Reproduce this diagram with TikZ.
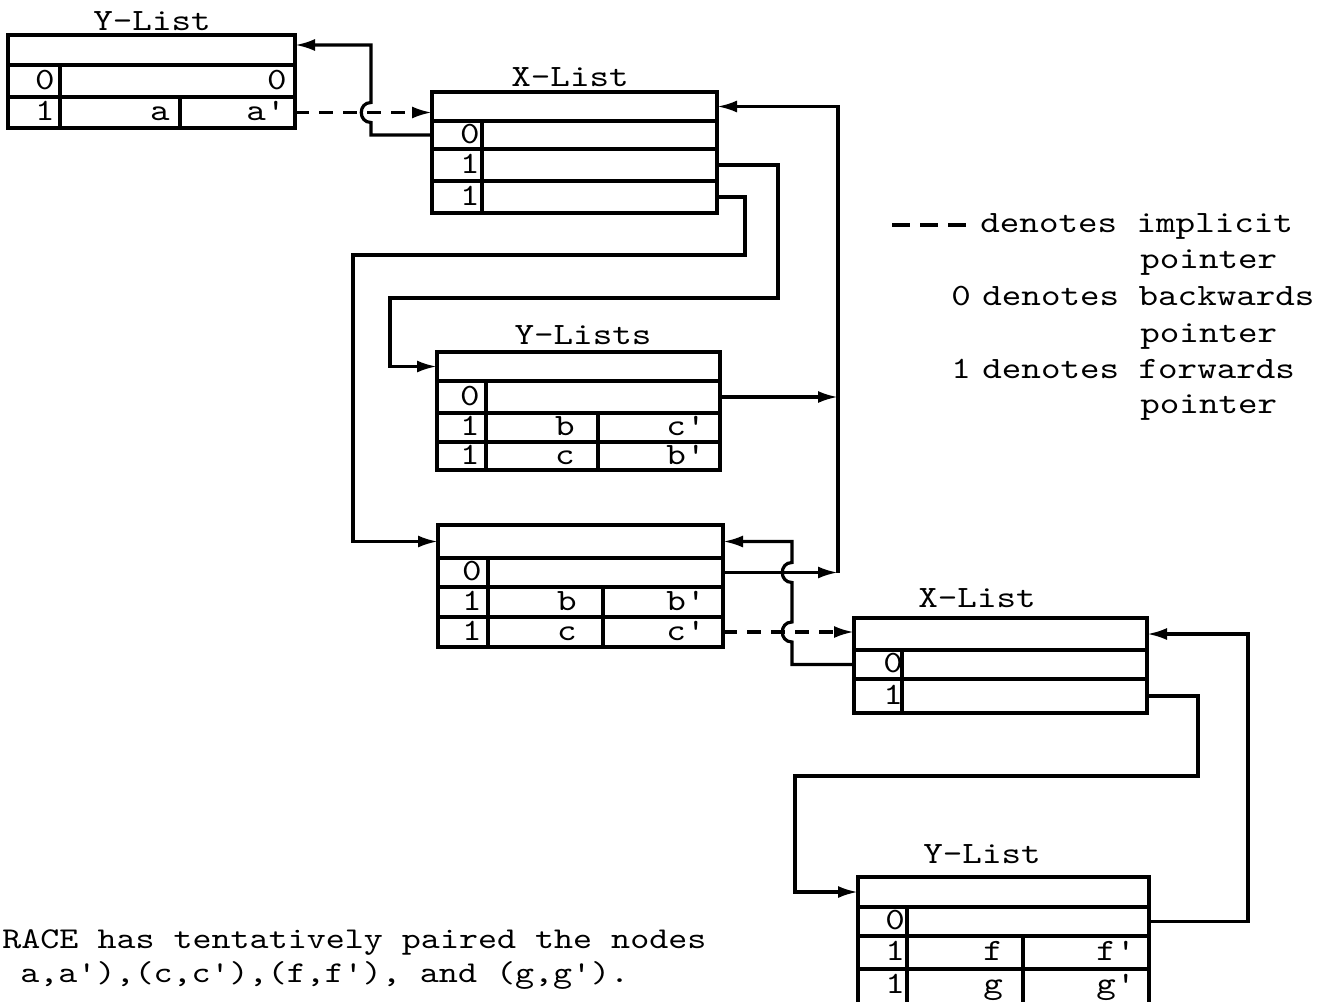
\documentclass[tikz,border=0pt]{standalone}
\usepackage{fontspec}
\setmonofont{lmmono10-regular.otf}[FakeStretch=1.2]
\usetikzlibrary{arrows.meta,fit}
\begin{document}
\begin{tikzpicture}[x=0.5pt,y=-0.5pt,
  box/.style={draw,line width=1.7pt,inner sep=0pt,outer sep=0pt},
  divider/.style={line width=1.7pt},
  lab/.style={font=\ttfamily\fontsize{15.5}{18}\selectfont,inner sep=0pt,anchor=base},
  txt/.style={font=\ttfamily\fontsize{15.5}{18}\selectfont,inner sep=0pt,anchor=base west},
  wire/.style={line width=1.6pt},
  arr/.style={wire,-{Latex[length=10pt,width=6pt]}},
  implicit/.style={arr,dash pattern=on 7pt off 5pt}]
\useasboundingbox (0,0) rectangle (1336,1001);
\clip (0,0) rectangle (1336,1001);
% ---------- Y-List (top left)
\node[lab] (t1) at (152,30) {Y-List};
\node[box,fit={(8,35) (295,65)}] (Y1h) {};
\node[box,fit={(8,65) (295,97)}] (Y1r0) {};
\node[box,fit={(8,97) (295,128)}] (Y1r1) {};
\draw[divider] (60,65) -- (60,128);
\draw[divider] (180,97) -- (180,128);
\node[lab] (y1a) at (45,89) {0};
\node[lab] (y1b) at (277,89) {0};
\node[lab] (y1c) at (45,120) {1};
\node[lab] (y1d) at (160,120) {a};
\node[lab] (y1e) at (266,120) {a'};
% ---------- X-List (top)
\node[lab] (t2) at (570,86) {X-List};
\node[box,fit={(432,92) (717,121)}] (X1h) {};
\node[box,fit={(432,121) (717,149)}] (X1r0) {};
\node[box,fit={(432,149) (717,181)}] (X1r1) {};
\node[box,fit={(432,181) (717,213)}] (X1r2) {};
\draw[divider] (482,121) -- (482,213);
\node[lab] (x1a) at (470,143) {0};
\node[lab] (x1b) at (470,173) {1};
\node[lab] (x1c) at (470,205) {1};
% ---------- Y-Lists
\node[lab] (t3) at (583,344) {Y-Lists};
\node[box,fit={(437,352) (720,381)}] (Y3h) {};
\node[box,fit={(437,381) (720,413)}] (Y3r0) {};
\node[box,fit={(437,413) (720,442)}] (Y3r1) {};
\node[box,fit={(437,442) (720,470)}] (Y3r2) {};
\draw[divider] (486,381) -- (486,470);
\draw[divider] (598,413) -- (598,470);
\node[lab] (y3a) at (470,405) {0};
\node[lab] (y3b) at (470,435) {1};
\node[lab] (y3c) at (565,435) {b};
\node[lab] (y3d) at (686,435) {c'};
\node[lab] (y3e) at (470,464) {1};
\node[lab] (y3f) at (565,464) {c};
\node[lab] (y3g) at (686,464) {b'};
% ---------- second Y-List box
\node[box,fit={(438,525) (723,558)}] (Y4h) {};
\node[box,fit={(438,558) (723,587)}] (Y4r0) {};
\node[box,fit={(438,587) (723,617)}] (Y4r1) {};
\node[box,fit={(438,617) (723,647)}] (Y4r2) {};
\draw[divider] (488,558) -- (488,647);
\draw[divider] (603,587) -- (603,647);
\node[lab] (y4a) at (472,580) {0};
\node[lab] (y4b) at (472,610) {1};
\node[lab] (y4c) at (567,610) {b};
\node[lab] (y4d) at (686,610) {b'};
\node[lab] (y4e) at (472,640) {1};
\node[lab] (y4f) at (567,640) {c};
\node[lab] (y4g) at (686,640) {c'};
% ---------- X-List (right)
\node[lab] (t5) at (977,607) {X-List};
\node[box,fit={(854,618) (1147,650)}] (X2h) {};
\node[box,fit={(854,650) (1147,679)}] (X2r0) {};
\node[box,fit={(854,679) (1147,713)}] (X2r1) {};
\draw[divider] (902,650) -- (902,713);
\node[lab] (x2a) at (893,672) {0};
\node[lab] (x2b) at (893,704) {1};
% ---------- Y-List (bottom right)
\node[lab] (t6) at (982,863) {Y-List};
\node[box,fit={(858,877) (1149,907)}] (Y5h) {};
\node[box,fit={(858,907) (1149,936)}] (Y5r0) {};
\node[box,fit={(858,936) (1149,969)}] (Y5r1) {};
\node[box,fit={(858,969) (1149,1010)}] (Y5r2) {};
\draw[divider] (907,907) -- (907,1010);
\draw[divider] (1023,936) -- (1023,1010);
\node[lab] (y5a) at (895,929) {0};
\node[lab] (y5b) at (895,960) {1};
\node[lab] (y5c) at (993,960) {f};
\node[lab] (y5d) at (1116,960) {f'};
\node[lab] (y5e) at (895,993) {1};
\node[lab] (y5f) at (993,993) {g};
\node[lab] (y5g) at (1116,993) {g'};
% ---------- connectors
\draw[implicit] (Y1r1.east) -- (Y1r1.east -| X1h.west);
\draw[arr] (X1r0.west) -- (371,135) -- (371,122.5)
   .. controls (358,122.5) and (358,102.5) .. (371,102.5)
   -- (371,45) -- (Y1h.east |- 0,45);
\draw[arr] (X1r1.east) -| (778,298) -| (Y3h.west -| 390,0) -- (Y3h.west);
\draw[arr] (X1r2.east) -| (745,255) -| (Y4h.west -| 353,0) -- (Y4h.west);
\draw[arr] (Y3r0.east) -- (Y3r0.east -| 838,0);
\draw[arr] (Y4r0.east) -- (Y4r0.east -| 838,0);
\draw[arr] (Y4r0.east -| 838,0) |- (X1h.east);
\draw[implicit] (Y4r2.east) -- (Y4r2.east -| X2h.west);
\draw[arr] (X2r0.west) -- (X2r0.west -| 792,0) -- (792,642)
   .. controls (779,642) and (779,622) .. (792,622)
   -- (792,582.5)
   .. controls (779,582.5) and (779,562.5) .. (792,562.5)
   -- (Y4h.east -| 792,0) -- (Y4h.east);
\draw[arr] (X2r1.east) -| (1198,776) -| (Y5h.west -| 795,0) -- (Y5h.west);
\draw[arr] (Y5r0.east) -| (X2h.east -| 1248,0) -- (X2h.east);
% ---------- legend
\draw[wire,dash pattern=on 9pt off 5pt] (892,225) -- (968,225);
\node[txt] (l1) at (980,232) {denotes implicit};
\node[txt] (l2) at (1140,268) {pointer};
\node[lab] (l3a) at (961,305) {0};
\node[txt] (l3) at (982,305) {denotes backwards};
\node[txt] (l4) at (1140,342) {pointer};
\node[lab] (l5a) at (961,378) {1};
\node[txt] (l5) at (982,378) {denotes forwards};
\node[txt] (l6) at (1140,413) {pointer};
% ---------- caption text
\node[txt,font=\ttfamily\fontsize{15.1}{18}\selectfont] (c1) at (2,948) {RACE has tentatively paired the nodes};
\node[txt,font=\ttfamily\fontsize{15.1}{18}\selectfont] (c2) at (20,982) {a,a'),(c,c'),(f,f'), and (g,g').};
\end{tikzpicture}
\end{document}
